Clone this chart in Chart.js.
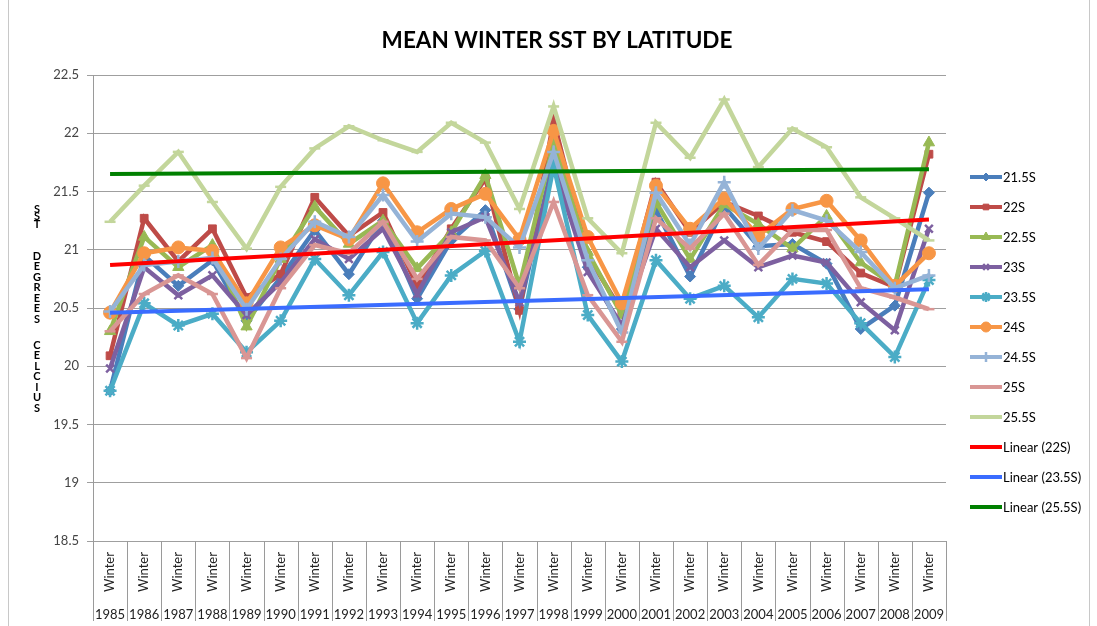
<!DOCTYPE html>
<html>
<head>
<meta charset="utf-8">
<script src="https://cdn.jsdelivr.net/npm/chart.js@4/dist/chart.umd.min.js"></script>
<style>
  body { margin: 0; background: #fff; }
  #wrap { width: 1097px; height: 626px; position: relative; }
</style>
</head>
<body>
<div id="wrap"><canvas id="sst" width="1097" height="626"></canvas></div>
<script>
const years = ['1985','1986','1987','1988','1989','1990','1991','1992','1993','1994','1995','1996','1997',
  '1998','1999','2000','2001','2002','2003','2004','2005','2006','2007','2008','2009'];
const season = 'Winter';
const yTicks = [18.5, 19, 19.5, 20, 20.5, 21, 21.5, 22, 22.5];

const lat215 = [19.79,20.95,20.69,20.91,20.39,20.76,21.17,20.79,21.25,20.58,21.08,21.34,20.49,21.78,20.85,20.32,21.34,20.77,21.37,21.03,21.05,20.88,20.32,20.52,21.49];
const lat22  = [20.09,21.27,20.90,21.18,20.59,20.79,21.45,21.12,21.32,20.69,21.18,21.61,20.48,22.11,20.95,20.47,21.58,21.15,21.41,21.29,21.15,21.07,20.80,20.68,21.82];
const lat225 = [20.30,21.11,20.85,21.04,20.34,20.92,21.37,21.05,21.25,20.84,21.15,21.64,20.69,21.92,20.98,20.44,21.41,20.92,21.39,21.22,21.01,21.29,20.89,20.69,21.92];
const lat23  = [19.98,20.85,20.61,20.78,20.44,20.72,21.09,20.92,21.18,20.62,21.15,21.28,20.55,21.72,20.81,20.35,21.18,20.85,21.08,20.85,20.95,20.89,20.55,20.31,21.18];
const lat235 = [19.79,20.54,20.35,20.45,20.12,20.39,20.92,20.61,20.98,20.37,20.78,20.99,20.21,21.72,20.44,20.04,20.91,20.58,20.69,20.42,20.75,20.71,20.37,20.08,20.74];
const lat24  = [20.46,20.97,21.02,20.99,20.54,21.02,21.21,21.09,21.57,21.15,21.35,21.48,21.09,22.02,21.11,20.54,21.55,21.18,21.44,21.12,21.35,21.42,21.08,20.69,20.97];
const lat245 = [20.47,20.87,20.90,20.93,20.49,20.92,21.24,21.11,21.47,21.07,21.31,21.28,21.02,21.84,20.91,20.29,21.49,21.04,21.58,21.01,21.34,21.25,20.98,20.67,20.78];
const lat25  = [20.30,20.62,20.78,20.62,20.07,20.67,21.04,20.97,21.24,20.75,21.11,21.08,20.67,21.41,20.61,20.21,21.27,21.01,21.31,20.87,21.17,21.17,20.67,20.59,20.49];
const lat255 = [21.24,21.55,21.84,21.41,21.01,21.54,21.87,22.06,21.94,21.84,22.09,21.92,21.35,22.23,21.27,20.97,22.09,21.79,22.29,21.71,22.04,21.88,21.45,21.27,21.08];

// trendline ends (first year, last year)
const trend22  = [20.87, 21.26];
const trend235 = [20.46, 20.66];
const trend255 = [21.65, 21.69];

const FONT = 'Lato, "Open Sans", sans-serif';

function series(label, data, color, style, radius, order) {
  return {
    label: label, data: data, borderColor: color, backgroundColor: color,
    borderWidth: 4.5, pointStyle: style, pointRadius: radius, pointHoverRadius: radius,
    pointBorderWidth: (style === 'crossRot' || style === 'star' || style === 'cross' || style === 'line') ? 2.5 : 1,
    pointBorderColor: color, pointBackgroundColor: color, tension: 0, order: order
  };
}
function trend(label, ends, color) {
  return {
    label: label, data: [{x: years[0], y: ends[0]}, {x: years[years.length - 1], y: ends[1]}],
    borderColor: color, backgroundColor: color, borderWidth: 4, pointRadius: 0,
    pointStyle: false, order: 0
  };
}

const datasets = [
  series('21.5S', lat215, '#4a7ebb', 'rectRot', 5.5, 9),
  series('22S',   lat22,  '#be4b48', 'rect', 5.5, 8),
  series('22.5S', lat225, '#98b954', 'triangle', 6.5, 7),
  series('23S',   lat23,  '#7d60a0', 'crossRot', 5.5, 6),
  series('23.5S', lat235, '#4bacc6', 'star', 6.5, 5),
  series('24S',   lat24,  '#f79646', 'circle', 6.5, 4),
  series('24.5S', lat245, '#95b3d7', 'cross', 6.5, 3),
  series('25S',   lat25,  '#d99694', 'line', 5.5, 2),
  series('25.5S', lat255, '#c3d69b', 'line', 5.5, 1),
  trend('Linear (22S)', trend22, '#ff0000'),
  trend('Linear (23.5S)', trend235, '#3a6cff'),
  trend('Linear (25.5S)', trend255, '#008000')
];

// title, y title, two-row category axis, legend, frame
const extras = {
  id: 'extras',
  afterDraw(chart) {
    const ctx = chart.ctx, area = chart.chartArea, xs = chart.scales.x;
    ctx.save();

    ctx.fillStyle = '#000';
    ctx.font = 'bold 22.5px ' + FONT;
    ctx.textAlign = 'center';
    ctx.textBaseline = 'middle';
    ctx.fillText('MEAN WINTER SST BY LATITUDE', 557, 41);

    // stacked y title
    ctx.font = 'bold 11px ' + FONT;
    const words = [['S','S','T'], ['D','E','G','R','E','E','S'], ['C','E','L','C','I','U','S']];
    const starts = [209, 256, 345];
    const steps = [7.5, 10.5, 10.5];
    words.forEach((w, k) => w.forEach((ch, j) => ctx.fillText(ch, 37, starts[k] + j * steps[k])));

    // category axis cells
    const w = (area.right - area.left) / years.length;
    ctx.strokeStyle = '#9a9a9a';
    ctx.lineWidth = 1;
    for (let i = 0; i <= years.length; i++) {
      const x = Math.round(area.left + i * w) + 0.5;
      ctx.beginPath();
      ctx.moveTo(x, area.bottom);
      ctx.lineTo(x, 621);
      ctx.stroke();
    }
    ctx.fillStyle = '#222';
    ctx.font = '13px ' + FONT;
    years.forEach((yr, i) => {
      const cx = xs.getPixelForValue(i);
      ctx.save();
      ctx.translate(cx, 572);
      ctx.rotate(-Math.PI / 2);
      ctx.fillText(season, 0, 0);
      ctx.restore();
      ctx.fillText(yr, cx, 615);
    });

    // legend
    ctx.textAlign = 'left';
    ctx.font = '13px ' + FONT;
    chart.data.datasets.forEach((ds, i) => {
      const y = 177 + i * 30;
      ctx.strokeStyle = ds.borderColor;
      ctx.lineWidth = 4;
      ctx.beginPath();
      ctx.moveTo(970, y);
      ctx.lineTo(1002, y);
      ctx.stroke();
      if (ds.pointStyle && Chart.helpers && Chart.helpers.drawPoint) {
        ctx.fillStyle = ds.borderColor;
        ctx.lineWidth = ds.pointBorderWidth;
        Chart.helpers.drawPoint(ctx, {pointStyle: ds.pointStyle, radius: ds.pointRadius - 1.5, rotation: 0, borderWidth: ds.pointBorderWidth}, 986, y);
      }
      ctx.fillStyle = '#000';
      ctx.fillText(ds.label, 1003, y + 1);
    });

    // chart frame
    ctx.strokeStyle = '#c8c8c8';
    ctx.lineWidth = 1;
    ctx.beginPath();
    ctx.moveTo(8.5, 0); ctx.lineTo(8.5, 626);
    ctx.moveTo(1089.5, 0); ctx.lineTo(1089.5, 626);
    ctx.stroke();
    ctx.restore();
  }
};

new Chart(document.getElementById('sst'), {
  type: 'line',
  data: { labels: years, datasets: datasets },
  options: {
    responsive: false,
    animation: false,
    events: [],
    layout: { padding: { top: 75, right: 151, bottom: 0, left: 0 } },
    plugins: { legend: { display: false }, title: { display: false }, tooltip: { enabled: false } },
    scales: {
      x: {
        type: 'category',
        offset: true,
        grid: { display: false },
        border: { display: false },
        ticks: { display: false },
        afterFit: s => { s.height = 85; }
      },
      y: {
        min: 18.5, max: 22.5,
        afterBuildTicks: s => { s.ticks = yTicks.map(v => ({ value: v })); },
        grid: { color: '#9f9f9f', lineWidth: 1, tickLength: 6 },
        border: { color: '#9a9a9a' },
        ticks: { color: '#444', font: { family: FONT, size: 13 }, padding: 8, callback: v => String(v) },
        afterFit: s => { s.width = 93; }
      }
    }
  },
  plugins: [extras]
});
</script>
</body>
</html>
